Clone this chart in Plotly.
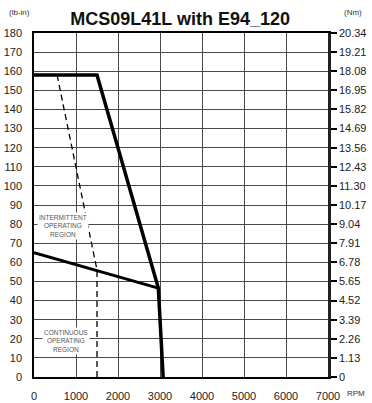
import plotly.graph_objects as go

# Data
speed_peak = [0, 1500, 2960, 3075]
torque_peak = [158, 158, 46.5, 0]
speed_cont = [0, 2960]
torque_cont = [65, 46.5]
speed_limit = [550, 1500, 1500]
torque_limit = [158, 56, 0]

lbin_ticks = list(range(0, 190, 10))
nm_labels = ["0", "1.13", "2.26", "3.39", "4.52", "5.65", "6.78", "7.91", "9.04",
             "10.17", "11.30", "12.43", "13.56", "14.69", "15.82", "16.95", "18.08",
             "19.21", "20.34"]
x_ticks = [0, 1000, 2000, 3000, 4000, 5000, 6000, 7000]

FONT = "Liberation Sans, Arial, sans-serif"
GRID = "#4a4a4a"

fig = go.Figure()
fig.add_trace(go.Scatter(x=speed_limit, y=torque_limit, mode="lines",
                         line=dict(color="black", width=1.3, dash="6px,4px"),
                         hoverinfo="skip", showlegend=False))
fig.add_trace(go.Scatter(x=speed_cont, y=torque_cont, mode="lines",
                         line=dict(color="black", width=3), showlegend=False))
fig.add_trace(go.Scatter(x=speed_peak, y=torque_peak, mode="lines",
                         line=dict(color="black", width=3.5), showlegend=False))
# invisible trace to activate y2
fig.add_trace(go.Scatter(x=[0], y=[0], yaxis="y2", mode="markers",
                         marker=dict(opacity=0), showlegend=False, hoverinfo="skip"))

fig.update_layout(
    width=372, height=403,
    margin=dict(l=34, r=44, t=33, b=26, autoexpand=False),
    plot_bgcolor="white", paper_bgcolor="white",
    font=dict(family=FONT, color="black", size=11),
    title=dict(text="<b>MCS09L41L with E94_120</b>", x=(185) / 372, xanchor="center",
               xref="paper", y=1 - 19 / 403, yanchor="middle",
               font=dict(size=18, family=FONT, color="#111")),
    xaxis=dict(range=[0, 7000], tickvals=x_ticks, showgrid=True, gridcolor=GRID,
               gridwidth=1, showline=True, linecolor="black", linewidth=2,
               mirror=True, ticks="", ticklabelstandoff=8, zeroline=False,
               automargin=False, tickfont=dict(size=11, color="#222")),
    yaxis=dict(range=[0, 180], tickvals=lbin_ticks, showgrid=True, gridcolor=GRID,
               gridwidth=1, showline=True, linecolor="black", linewidth=1.5,
               ticks="", ticklabelstandoff=8, zeroline=False, automargin=False,
               tickfont=dict(size=11, color="#222")),
    yaxis2=dict(range=[0, 180], tickvals=lbin_ticks, ticktext=nm_labels,
                overlaying="y", side="right", showgrid=False, showline=True,
                linecolor="#222", linewidth=2.5, ticks="outside", ticklen=6,
                tickwidth=1.5, tickcolor="black", zeroline=False, automargin=False,
                tickfont=dict(size=11, color="#222")),
)

fig.add_annotation(text="(lb-in)", xref="paper", yref="paper", x=-27 / 294,
                   xanchor="left", y=1 + 20 / 344, yanchor="middle", showarrow=False,
                   font=dict(size=8, color="#333"))
fig.add_annotation(text="(Nm)", xref="paper", yref="paper", x=(342 - 34) / 294,
                   xanchor="left", y=1 + 21 / 344, yanchor="middle", showarrow=False,
                   font=dict(size=8, color="#333"))
fig.add_annotation(text="RPM", xref="paper", yref="paper", x=(345 - 34) / 294,
                   xanchor="left", y=-16 / 344, yanchor="middle", showarrow=False,
                   font=dict(size=8, color="#333"))
fig.add_annotation(text="INTERMITTENT<br>OPERATING<br>REGION", x=700, y=79,
                   showarrow=False, bgcolor="white", borderpad=1,
                   font=dict(size=6.5, color="#555"))
fig.add_annotation(text="CONTINUOUS<br>OPERATING<br>REGION", x=750, y=19,
                   showarrow=False, bgcolor="white", borderpad=1,
                   font=dict(size=6.5, color="#555"))

fig.write_html("out.html", config={"displayModeBar": False},
               post_script="document.body.style.margin='0';document.body.style.overflow='hidden';")
